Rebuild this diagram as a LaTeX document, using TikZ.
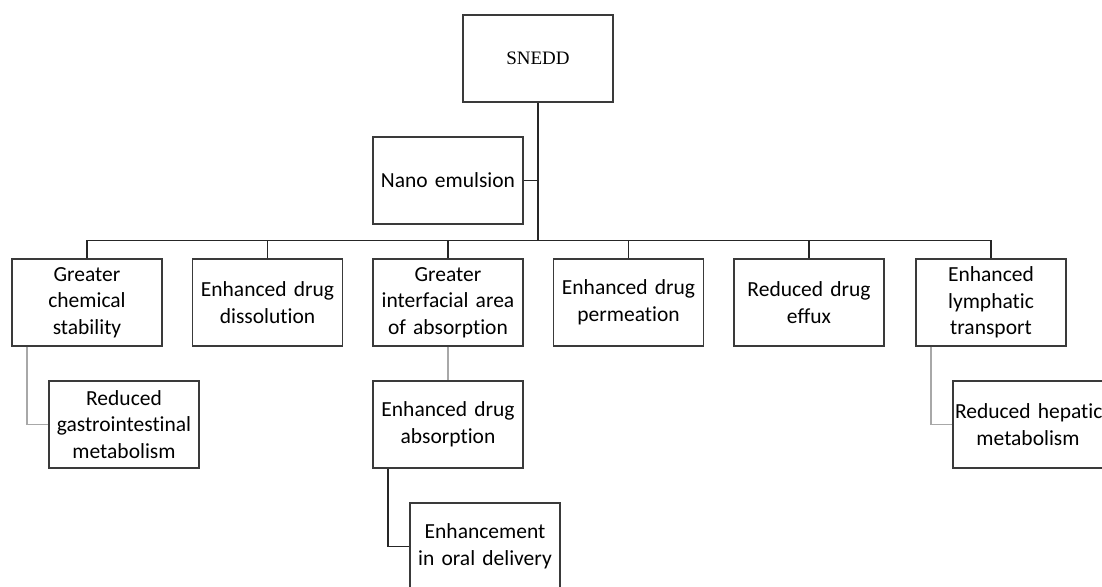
\documentclass[tikz,border=0pt]{standalone}
\usepackage{fontspec}
\setmainfont{Carlito}[Ligatures=NoCommon,WordSpace=0.75]
\newfontfamily\timesfont{Liberation Serif}
\usetikzlibrary{positioning}
\definecolor{edge}{HTML}{3A3A3A}
\definecolor{pale}{HTML}{A8A8A8}

\begin{document}
\begin{tikzpicture}[x=1pt,y=-1pt,
  box/.style={draw=edge,line width=1.2pt,text width=146pt,minimum height=87pt,
    inner sep=2pt,align=center,font=\fontsize{21.5}{26.5}\selectfont},
  link/.style={draw=black!85,line width=1.5pt},
  faint/.style={draw=pale,line width=1.2pt}]
\useasboundingbox (0,0) rectangle (1102,586);
% root and side branch
\node[box,font=\timesfont\fontsize{19}{23}\selectfont] (snedd) at (538,58.5) {SNEDD};
\node[box] (nano) at (448,180.5) {Nano emulsion};
\coordinate (bus) at (538,241);
% first row
\node[box] (stab) at (87,302.5) {Greater\\chemical\\stability};
\node[box] (diss) at (267.5,302.5) {Enhanced drug\\dissolution};
\node[box] (area) at (448,302.5) {Greater\\interfacial area\\of absorption};
\node[box] (perm) at (628.5,302.5) {Enhanced drug\\permeation};
\node[box] (efflux) at (809,302.5) {Reduced drug\\effux};
\node[box] (lymph) at (991,302.5) {Enhanced\\lymphatic\\transport};
% second row
\node[box] (gi) at (124,424.5) {Reduced\\gastrointestinal\\metabolism};
\node[box] (absorb) at (448,424.5) {Enhanced drug\\absorption};
\node[box] (hepatic) at (1028,424.5) {\mbox{Reduced hepatic}\\metabolism};
\node[box] (oral) at (485,546.5) {Enhancement\\in oral delivery};
% connectors
\draw[link] (snedd.south) -- (bus);
\draw[link] (nano.east) -- (nano.east -| bus);
\draw[link] (stab.north) -- ++(0,-18) -| (lymph.north);
\foreach \n in {diss,area,perm,efflux}
  \draw[link] (\n.north) -- ++(0,-18);
\draw[faint] ([xshift=-60pt]stab.south) |- (gi.west);
\draw[faint] (area.south) -- (absorb.north);
\draw[faint] ([xshift=-60pt]lymph.south) |- (hepatic.west);
\draw[link] ([xshift=-60pt]absorb.south) |- (oral.west);
\end{tikzpicture}
\end{document}
